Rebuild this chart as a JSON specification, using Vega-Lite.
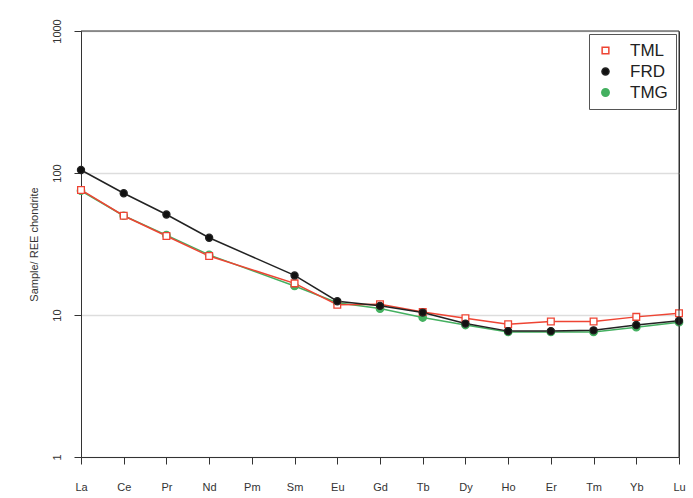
{
  "$schema": "https://vega.github.io/schema/vega-lite/v6.json",
  "width": 598,
  "height": 426,
  "autosize": {"type": "none"},
  "padding": {"left": 81, "top": 31, "right": 14, "bottom": 41},
  "background": "white",
  "config": {
    "font": "Liberation Sans",
    "view": {"stroke": "#333333", "strokeWidth": 1},
    "axis": {"domainColor": "#333333", "tickColor": "#333333", "labelColor": "#333333", "titleColor": "#333333", "labelFont": "Liberation Sans", "titleFont": "Liberation Sans"},
    "legend": {"title": null, "orient": "top-right", "offset": 3, "padding": 8, "strokeColor": "#555555", "fillColor": "white", "labelFontSize": 17, "labelColor": "#222222", "rowPadding": 3, "labelOffset": 16}
  },
  "data": {
    "values": [
      {"el": "La", "s": "TMG", "v": 75}, {"el": "Ce", "s": "TMG", "v": 50}, {"el": "Pr", "s": "TMG", "v": 36.5}, {"el": "Nd", "s": "TMG", "v": 26.5}, {"el": "Sm", "s": "TMG", "v": 16}, {"el": "Eu", "s": "TMG", "v": 12.2}, {"el": "Gd", "s": "TMG", "v": 11.1}, {"el": "Tb", "s": "TMG", "v": 9.6}, {"el": "Dy", "s": "TMG", "v": 8.5}, {"el": "Ho", "s": "TMG", "v": 7.6}, {"el": "Er", "s": "TMG", "v": 7.6}, {"el": "Tm", "s": "TMG", "v": 7.6}, {"el": "Yb", "s": "TMG", "v": 8.2}, {"el": "Lu", "s": "TMG", "v": 8.9},
      {"el": "La", "s": "TML", "v": 76}, {"el": "Ce", "s": "TML", "v": 50}, {"el": "Pr", "s": "TML", "v": 36}, {"el": "Nd", "s": "TML", "v": 26}, {"el": "Sm", "s": "TML", "v": 16.7}, {"el": "Eu", "s": "TML", "v": 11.8}, {"el": "Gd", "s": "TML", "v": 11.9}, {"el": "Tb", "s": "TML", "v": 10.5}, {"el": "Dy", "s": "TML", "v": 9.5}, {"el": "Ho", "s": "TML", "v": 8.6}, {"el": "Er", "s": "TML", "v": 9.0}, {"el": "Tm", "s": "TML", "v": 9.0}, {"el": "Yb", "s": "TML", "v": 9.7}, {"el": "Lu", "s": "TML", "v": 10.3},
      {"el": "La", "s": "FRD", "v": 105}, {"el": "Ce", "s": "FRD", "v": 72}, {"el": "Pr", "s": "FRD", "v": 51}, {"el": "Nd", "s": "FRD", "v": 35}, {"el": "Sm", "s": "FRD", "v": 19}, {"el": "Eu", "s": "FRD", "v": 12.5}, {"el": "Gd", "s": "FRD", "v": 11.6}, {"el": "Tb", "s": "FRD", "v": 10.4}, {"el": "Dy", "s": "FRD", "v": 8.7}, {"el": "Ho", "s": "FRD", "v": 7.7}, {"el": "Er", "s": "FRD", "v": 7.7}, {"el": "Tm", "s": "FRD", "v": 7.8}, {"el": "Yb", "s": "FRD", "v": 8.5}, {"el": "Lu", "s": "FRD", "v": 9.1}
    ]
  },
  "layer": [
    {
      "mark": {"type": "line", "strokeWidth": 1.5},
      "encoding": {
        "x": {
          "field": "el", "type": "ordinal",
          "scale": {"type": "point", "padding": 0, "domain": ["La","Ce","Pr","Nd","Pm","Sm","Eu","Gd","Tb","Dy","Ho","Er","Tm","Yb","Lu"]},
          "axis": {"title": null, "labelAngle": 0, "labelFontSize": 11, "tickSize": 7, "labelPadding": 17, "grid": false, "domain": true}
        },
        "y": {
          "field": "v", "type": "quantitative",
          "scale": {"type": "log", "domain": [1, 1000], "nice": false},
          "axis": {"title": "Sample/ REE chondrite", "values": [1, 10, 100, 1000], "format": "d", "labelAngle": -90, "labelAlign": "center", "labelBaseline": "bottom", "labelPadding": 12, "tickSize": 7, "labelFontSize": 11, "titleFontSize": 11, "titleFontWeight": "normal", "titlePadding": 12, "grid": true, "gridColor": "#dddddd", "gridWidth": 1.5}
        },
        "detail": {"field": "s"},
        "stroke": {"field": "s", "type": "nominal", "scale": {"domain": ["TML", "FRD", "TMG"], "range": ["#ee4433", "#222222", "#44b060"]}}
      }
    },
    {
      "mark": {"type": "point", "strokeWidth": 1.3, "opacity": 1},
      "encoding": {
        "x": {"field": "el", "type": "ordinal"},
        "y": {"field": "v", "type": "quantitative"},
        "shape": {"field": "s", "type": "nominal", "scale": {"domain": ["TML", "FRD", "TMG"], "range": ["square", "circle", "circle"]}},
        "stroke": {"field": "s", "type": "nominal", "scale": {"domain": ["TML", "FRD", "TMG"], "range": ["#ee4433", "#222222", "#44b060"]}},
        "fill": {"field": "s", "type": "nominal", "scale": {"domain": ["TML", "FRD", "TMG"], "range": ["white", "#111111", "#44b060"]}},
        "size": {"field": "s", "type": "nominal", "scale": {"domain": ["TML", "FRD", "TMG"], "range": [45, 55, 12]}}
      }
    },
    {
      "data": {"values": [{}]},
      "mark": {"type": "rule", "color": "#333333", "strokeWidth": 1},
      "encoding": {"y": {"datum": 1000}}
    },
    {
      "data": {"values": [{}]},
      "mark": {"type": "rule", "color": "#333333", "strokeWidth": 1},
      "encoding": {"x": {"datum": "Lu"}}
    }
  ]
}
